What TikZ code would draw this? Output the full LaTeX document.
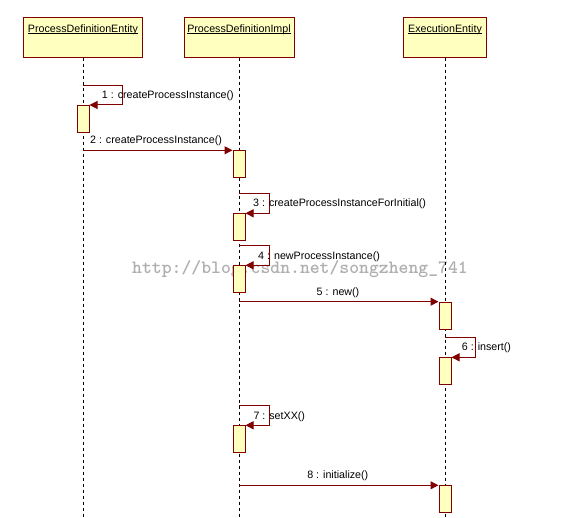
\documentclass[tikz,border=0pt]{standalone}
\usepackage{fontspec}
\setmainfont{Liberation Sans}
\usetikzlibrary{arrows.meta}
\definecolor{umlred}{RGB}{128,0,0}
\definecolor{umlfill}{RGB}{255,255,192}
\definecolor{wmgray}{RGB}{175,175,175}
\begin{document}
\begin{tikzpicture}[x=1pt,y=-1pt,
  every node/.style={font=\fontsize{10.7}{12}\selectfont},
  headbox/.style={draw=umlred, fill=umlfill, line width=1pt, minimum height=39.4pt, inner sep=0pt, anchor=north},
  actbox/.style={draw=umlred, fill=umlfill, line width=1pt, minimum width=12pt, minimum height=27pt, inner sep=0pt, anchor=north},
  lifeline/.style={black, line width=0.8pt, dash pattern=on 3pt off 3pt},
  msg/.style={umlred, line width=1pt, -{Triangle[length=8pt,width=8pt]}},
  lbl/.style={inner sep=0pt, text=black},
  headtxt/.style={inner sep=0pt, anchor=base, text=black},
  uline/.style={black, line width=0.7pt}]
\useasboundingbox (0,0) rectangle (582,518);
\fill[white] (0,0) rectangle (582,518);

% watermark
\node[inner sep=0pt, text=wmgray, font=\ttfamily\bfseries\fontsize{18.8}{20}\selectfont] (wm) at (300,269.3) {http://blog.csdn.net/songzheng\_741};

% header boxes
\node[headbox, minimum width=118.4pt] (h1) at (83,17.3) {};
\node[headbox, minimum width=110pt] (h2) at (239,17.3) {};
\node[headbox, minimum width=83.4pt] (h3) at (445,17.3) {};
\node[headtxt] (t1) at (83,32.2) {ProcessDefinitionEntity};
\node[headtxt] (t2) at (239,32.2) {ProcessDefinitionImpl};
\node[headtxt] (t3) at (445,32.2) {ExecutionEntity};
\draw[uline] ([yshift=-1.3pt]t1.base west) -- ([yshift=-1.3pt]t1.base east);
\draw[uline] ([yshift=-1.3pt]t2.base west) -- ([yshift=-1.3pt]t2.base east);
\draw[uline] ([yshift=-1.3pt]t3.base west) -- ([yshift=-1.3pt]t3.base east);

% lifelines
\coordinate (l1end) at (83,517);
\coordinate (l2end) at (239,517);
\coordinate (l3end) at (445,517);
\draw[lifeline] (h1.south) -- (l1end);
\draw[lifeline] (h2.south) -- (l2end);
\draw[lifeline] (h3.south) -- (l3end);

% activations
\node[actbox] (a1) at (83,105) {};
\node[actbox] (a2) at (239,150.3) {};
\node[actbox] (a3) at (239,213.3) {};
\node[actbox] (a4) at (239,265.3) {};
\node[actbox] (a5) at (445,301.7) {};
\node[actbox] (a6) at (445,357.3) {};
\node[actbox] (a7) at (239,425.3) {};
\node[actbox] (a8) at (445,485.3) {};

% self loops
\coordinate (s1) at (83,85.7);   \coordinate (c1) at (122.7,105);
\coordinate (s3) at (239,193.3); \coordinate (c3) at (269,213.3);
\coordinate (s4) at (239,245.3); \coordinate (c4) at (269,265.3);
\coordinate (s6) at (445,337.3); \coordinate (c6) at (475.3,357.3);
\coordinate (s7) at (239,405.3); \coordinate (c7) at (269.3,425.3);
\draw[msg] (s1) -| (c1) -- (a1.north east);
\draw[msg] (s3) -| (c3) -- (a3.north east);
\draw[msg] (s4) -| (c4) -- (a4.north east);
\draw[msg] (s6) -| (c6) -- (a6.north east);
\draw[msg] (s7) -| (c7) -- (a7.north east);

% messages
\coordinate (m2) at (83,150.3);
\coordinate (m5) at (239,301.7);
\coordinate (m8) at (239,485.3);
\draw[msg] (m2) -- (a2.north west);
\draw[msg] (m5) -- (a5.north west);
\draw[msg] (m8) -- (a8.north west);

% labels
\node[lbl, anchor=west] (L1) at (101.7,96) {1 : createProcessInstance()};
\node[lbl] (L2) at (156,141) {2 : createProcessInstance()};
\node[lbl, anchor=west] (L3) at (253,204) {3 : createProcessInstanceForInitial()};
\node[lbl, anchor=west] (L4) at (258,256.7) {4 : newProcessInstance()};
\node[lbl] (L5) at (338,292.3) {5 : new()};
\node[lbl, anchor=west] (L6) at (461.7,347.7) {6 : insert()};
\node[lbl, anchor=west] (L7) at (253.3,416.7) {7 : setXX()};
\node[lbl] (L8) at (337.8,476) {8 : initialize()};
\end{tikzpicture}
\end{document}
